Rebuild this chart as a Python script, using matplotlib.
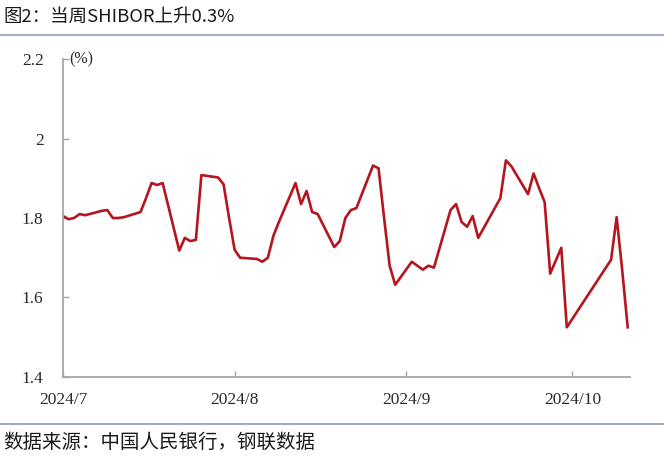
import matplotlib
matplotlib.use("Agg")
import matplotlib.pyplot as plt
import pandas as pd
from matplotlib.lines import Line2D

# ---- data ----
dates = [
    "2024-07-01", "2024-07-02", "2024-07-03", "2024-07-04", "2024-07-05",
    "2024-07-08", "2024-07-09", "2024-07-10", "2024-07-11", "2024-07-12",
    "2024-07-15", "2024-07-16", "2024-07-17", "2024-07-18", "2024-07-19",
    "2024-07-22", "2024-07-23", "2024-07-24", "2024-07-25", "2024-07-26",
    "2024-07-29", "2024-07-30", "2024-07-31",
    "2024-08-01", "2024-08-02", "2024-08-05", "2024-08-06", "2024-08-07",
    "2024-08-08", "2024-08-09", "2024-08-12", "2024-08-13", "2024-08-14",
    "2024-08-15", "2024-08-16", "2024-08-19", "2024-08-20", "2024-08-21",
    "2024-08-22", "2024-08-23", "2024-08-26", "2024-08-27", "2024-08-28",
    "2024-08-29", "2024-08-30",
    "2024-09-02", "2024-09-03", "2024-09-04", "2024-09-05", "2024-09-06",
    "2024-09-09", "2024-09-10", "2024-09-11", "2024-09-12", "2024-09-13",
    "2024-09-14", "2024-09-18", "2024-09-19", "2024-09-20", "2024-09-23",
    "2024-09-24", "2024-09-25", "2024-09-26", "2024-09-27", "2024-09-29",
    "2024-09-30",
    "2024-10-08", "2024-10-09", "2024-10-10", "2024-10-11",
]
shibor = [
    1.805, 1.797, 1.800, 1.810, 1.807,
    1.818, 1.820, 1.800, 1.800, 1.802,
    1.815, 1.850, 1.888, 1.883, 1.888,
    1.718, 1.750, 1.742, 1.745, 1.908,
    1.902, 1.885, 1.800,
    1.720, 1.700, 1.697, 1.690, 1.700,
    1.755, 1.790, 1.888, 1.835, 1.868,
    1.815, 1.810, 1.727, 1.742, 1.800,
    1.820, 1.825, 1.932, 1.925, 1.800,
    1.680, 1.632,
    1.690, 1.680, 1.670, 1.680, 1.675,
    1.820, 1.835, 1.790, 1.778, 1.805,
    1.750, 1.850, 1.945, 1.930, 1.860,
    1.912, 1.875, 1.840, 1.660, 1.725,
    1.525,
    1.695, 1.802, 1.670, 1.525,
]
y_ticks = [1.4, 1.6, 1.8, 2.0, 2.2]
y_tick_labels = ["1.4", "1.6", "1.8", "2", "2.2"]
x_ticks = ["2024-07-01", "2024-08-01", "2024-09-01", "2024-10-01"]
x_tick_labels = ["2024/7", "2024/8", "2024/9", "2024/10"]
title = "图2：当周SHIBOR上升0.3%"
source = "数据来源：中国人民银行，钢联数据"
unit = "(%)"

# ---- figure ----
W, H = 664, 461
fig = plt.figure(figsize=(W / 100, H / 100), dpi=100)
fig.patch.set_facecolor("white")

ax = fig.add_axes([63 / W, 84 / H, 567 / W, 318 / H])
x = pd.to_datetime(dates)
ax.plot(x, shibor, color="#B5151F", lw=1.9, solid_joinstyle="round")

ax.set_xlim(pd.Timestamp("2024-07-01"), pd.Timestamp("2024-10-11 10:00"))
ax.set_ylim(1.4, 2.2)
ax.set_yticks(y_ticks)
ax.set_yticklabels(y_tick_labels)
ax.set_xticks(pd.to_datetime(x_ticks))
ax.set_xticklabels(x_tick_labels)

spine_col = "#A6A6A6"
for s in ["top", "right"]:
    ax.spines[s].set_visible(False)
for s in ["left", "bottom"]:
    ax.spines[s].set_color(spine_col)
    ax.spines[s].set_linewidth(1.3)

ax.tick_params(axis="y", direction="in", length=4, width=1, color=spine_col,
               pad=14, labelsize=12.5, labelcolor="#2a2a2a")
ax.tick_params(axis="x", direction="in", length=4, width=1, color=spine_col,
               pad=11, labelsize=12.5, labelcolor="#2a2a2a")
for lab in ax.get_xticklabels() + ax.get_yticklabels():
    lab.set_fontfamily("Liberation Serif")

ax.text(0.011, 1.0, unit, transform=ax.transAxes, ha="left", va="center",
        fontsize=11.5, family="Liberation Serif", color="#2a2a2a")

cjk = ["Noto Sans CJK SC", "DejaVu Sans"]
fig.text(3 / W, 1 - 17 / H, title, ha="left", va="center", fontsize=13.3,
         family=cjk, color="#1a1a1a")
fig.text(3 / W, 1 - 442 / H, source, ha="left", va="center", fontsize=14,
         family=cjk, color="#1a1a1a")

sep_col = "#9DB0C8"
fig.add_artist(Line2D([0, 1], [1 - 35 / H, 1 - 35 / H], transform=fig.transFigure,
                      color=sep_col, lw=1.5))
fig.add_artist(Line2D([0, 1], [1 - 424 / H, 1 - 424 / H], transform=fig.transFigure,
                      color=sep_col, lw=1.5))

fig.savefig("out.png", dpi=100, facecolor="white")
